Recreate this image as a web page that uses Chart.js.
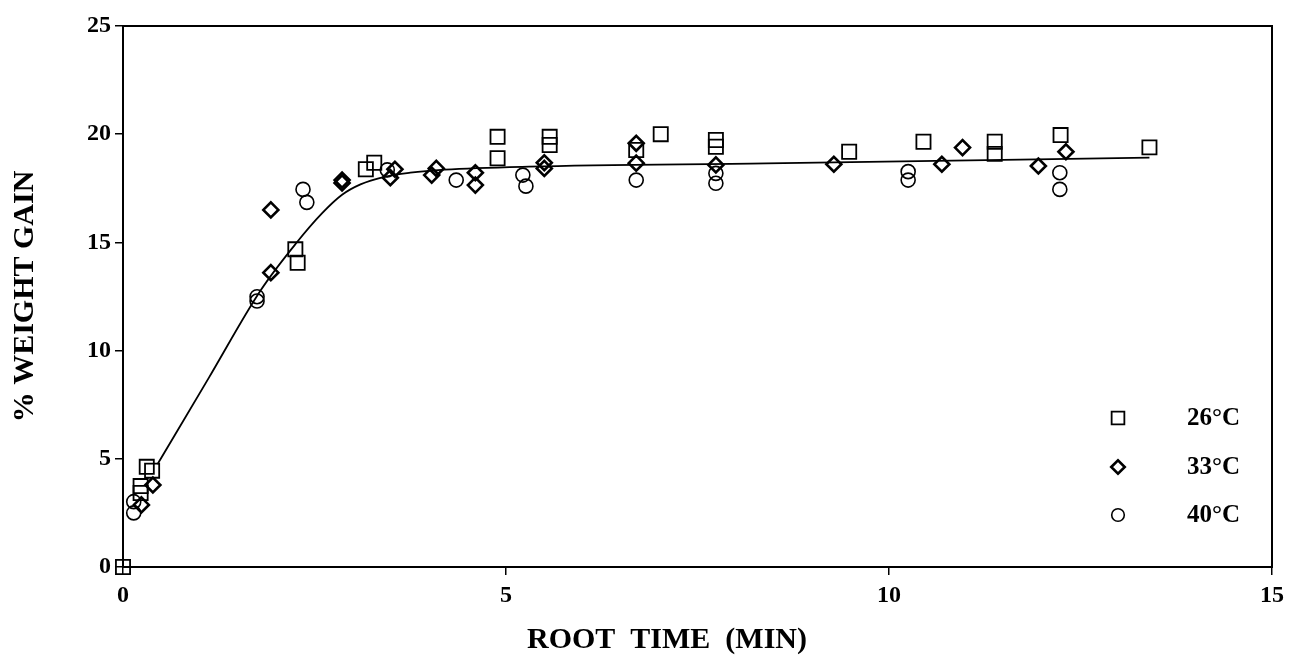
<!DOCTYPE html>
<html>
<head>
<meta charset="utf-8">
<script src="https://cdn.jsdelivr.net/npm/chart.js@4.4.1/dist/chart.umd.min.js"></script>
<style>
  html, body { margin: 0; padding: 0; background: #fff; }
  canvas { display: block; }
</style>
</head>
<body>
<canvas id="chart" width="1290" height="662"></canvas>
<script>
// values
const xTicks = [0, 5, 10, 15]
const yTicks = [0, 5, 10, 15, 20, 25]

const seriesLabels = ['26°C', '33°C', '40°C']

const x26 = [0, 0.31, 0.38, 0.23, 0.23, 2.25, 2.28, 3.17, 3.28, 4.89, 4.89, 5.57, 5.57, 6.70, 7.02, 7.74, 7.74, 9.48, 10.45, 11.38, 11.38, 12.24, 13.40]
const y26 = [0, 4.63, 4.45, 3.74, 3.42, 14.68, 14.06, 18.38, 18.68, 19.88, 18.89, 19.88, 19.50, 19.27, 20.0, 19.73, 19.42, 19.19, 19.65, 19.65, 19.09, 19.96, 19.39]

const x33 = [0.24, 0.39, 1.93, 1.93, 2.86, 2.86, 3.49, 3.55, 4.03, 4.09, 4.60, 4.60, 5.50, 5.50, 6.70, 6.70, 7.74, 9.28, 10.69, 10.96, 11.95, 12.31]
const y33 = [2.87, 3.79, 16.5, 13.6, 17.88, 17.75, 17.99, 18.38, 18.11, 18.42, 18.22, 17.65, 18.68, 18.42, 19.58, 18.66, 18.58, 18.61, 18.61, 19.38, 18.53, 19.19]

const x40 = [0.14, 0.14, 1.75, 1.75, 2.35, 2.40, 3.45, 4.35, 5.22, 5.26, 6.70, 7.74, 7.74, 10.25, 10.25, 12.23, 12.23]
const y40 = [3.02, 2.50, 12.49, 12.29, 17.45, 16.85, 18.35, 17.88, 18.11, 17.60, 17.88, 18.19, 17.73, 18.27, 17.88, 18.22, 17.45]

// fitted curve
const fitX = [0.45, 1.12, 1.80, 2.26, 2.60, 2.86, 3.10, 3.40, 3.75, 4.2, 5.3, 8.4, 13.4]
const fitY = [4.75, 8.74, 12.80, 14.96, 16.35, 17.20, 17.68, 18.02, 18.22, 18.36, 18.5, 18.65, 18.92]

const xTitle = 'ROOT  TIME  (MIN)'
const yTitle = '% WEIGHT GAIN'

const serif = "'Liberation Serif', 'Times New Roman', serif"

function toPoints(xs, ys){
    return xs.map((x, i) => ({x: x, y: ys[i]}))
}

function markerSet(label, xs, ys, style, radius, width){
    return {
        type: 'scatter',
        label: label,
        data: toPoints(xs, ys),
        pointStyle: style,
        pointRadius: radius,
        pointHoverRadius: radius,
        borderColor: '#000',
        backgroundColor: 'rgba(0,0,0,0)',
        pointBorderWidth: width,
        borderWidth: width,
        clip: false
    }
}

// box round the plot area
const frame = {
    id: 'frame',
    afterDatasetsDraw(chart){
        let a = chart.chartArea
        let ctx = chart.ctx
        ctx.save()
        ctx.strokeStyle = '#000'
        ctx.lineWidth = 2
        ctx.strokeRect(a.left, a.top, a.right - a.left, a.bottom - a.top)
        ctx.restore()
    }
}

// x title sits a bit left of the plot centre in the original
const bottomTitle = {
    id: 'bottomTitle',
    afterDraw(chart){
        let ctx = chart.ctx
        ctx.save()
        ctx.fillStyle = '#000'
        ctx.font = "bold 30px " + serif
        ctx.textAlign = 'center'
        ctx.textBaseline = 'middle'
        ctx.fillText(xTitle, 667, 640)
        ctx.restore()
    }
}

// legend in the lower right corner of the plot
const cornerLegend = {
    id: 'cornerLegend',
    afterDraw(chart){
        let ctx = chart.ctx
        let rows = [418, 467, 515]
        ctx.save()
        ctx.font = "bold 25px " + serif
        ctx.textBaseline = 'middle'
        for (let i = 0; i < 3; i++){
            let ds = chart.data.datasets[i]
            ctx.strokeStyle = '#000'
            ctx.fillStyle = 'rgba(0,0,0,0)'
            ctx.lineWidth = ds.pointBorderWidth
            Chart.helpers.drawPoint(ctx, {
                pointStyle: ds.pointStyle,
                radius: ds.pointRadius * 0.9,
                borderWidth: ds.pointBorderWidth
            }, 1118, rows[i])
            ctx.fillStyle = '#000'
            ctx.fillText(ds.label, 1187, rows[i] + 1)
        }
        ctx.restore()
    }
}

let ctx = document.getElementById('chart').getContext('2d')

let myChart = new Chart(ctx, {
    data: {
        datasets: [
            markerSet(seriesLabels[0], x26, y26, 'rect', 10, 1.8),
            markerSet(seriesLabels[1], x33, y33, 'rectRot', 7.5, 2.6),
            markerSet(seriesLabels[2], x40, y40, 'circle', 7, 1.6),
            {
                type: 'line',
                label: 'fit',
                data: toPoints(fitX, fitY),
                borderColor: '#000',
                borderWidth: 1.8,
                pointRadius: 0,
                fill: false,
                cubicInterpolationMode: 'monotone'
            }
        ]
    },
    options: {
        responsive: false,
        animation: false,
        events: [],
        layout: {
            padding: {top: 26, right: 12, left: 0, bottom: 0}
        },
        plugins: {
            legend: {display: false},
            tooltip: {enabled: false}
        },
        scales: {
            x: {
                type: 'linear',
                min: 0,
                max: 15,
                afterBuildTicks: (scale) => { scale.ticks = xTicks.map(v => ({value: v})) },
                afterFit: (scale) => { scale.height = 95 },
                border: {display: true, color: '#000', width: 2},
                grid: {drawOnChartArea: false, drawTicks: true, tickLength: 8, color: '#000', lineWidth: 1.5},
                ticks: {color: '#000', font: {family: serif, size: 24, weight: 'bold'}, padding: 6, maxRotation: 0},
                title: {display: false}
            },
            y: {
                type: 'linear',
                min: 0,
                max: 25,
                afterBuildTicks: (scale) => { scale.ticks = yTicks.map(v => ({value: v})) },
                afterFit: (scale) => { scale.width = 123 },
                border: {display: true, color: '#000', width: 2},
                grid: {drawOnChartArea: false, drawTicks: true, tickLength: 8, color: '#000', lineWidth: 1.5},
                ticks: {color: '#000', font: {family: serif, size: 24, weight: 'bold'}, padding: 4},
                title: {
                    display: true,
                    text: yTitle,
                    color: '#000',
                    font: {family: serif, size: 30, weight: 'bold'},
                    padding: {top: 7, bottom: 0}
                }
            }
        }
    },
    plugins: [frame, bottomTitle, cornerLegend]
})
</script>
</body>
</html>
